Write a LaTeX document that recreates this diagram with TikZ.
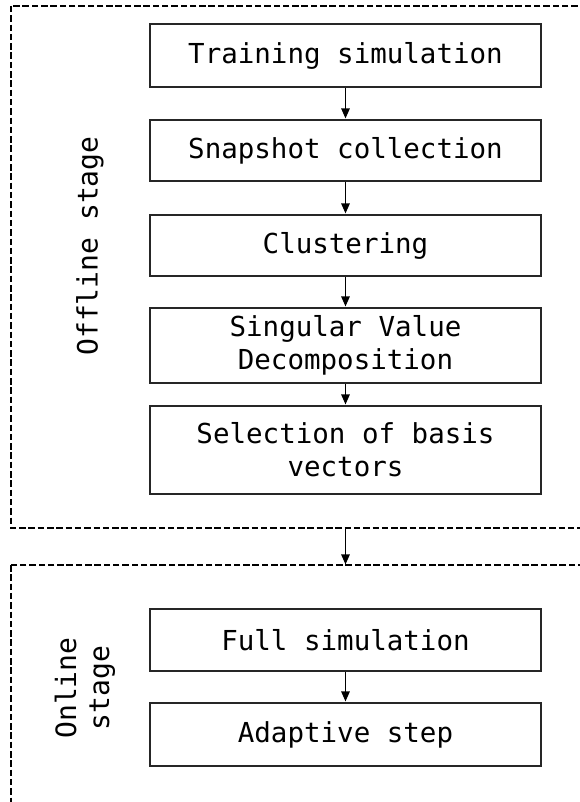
\documentclass[tikz,border=0pt]{standalone}
\usepackage{fontspec}
\setmonofont{DejaVu Sans Mono}
\usetikzlibrary{arrows.meta}
\tikzset{
  stagebox/.style={draw=black, line width=1.7pt, dash pattern=on 6.5pt off 2.8pt},
  stepbox/.style={draw=black!85, line width=2pt, minimum width=391pt, align=center,
    inner sep=0pt, font=\ttfamily\fontsize{27.5}{33}\selectfont},
  stagelabel/.style={rotate=90, align=center, inner sep=0pt,
    font=\ttfamily\fontsize{28}{33}\selectfont},
  flow/.style={draw=black, line width=1.4pt, -{Triangle[length=10pt,width=8.5pt]}, shorten >=0.6pt}
}
\begin{document}
\begin{tikzpicture}[x=1pt, y=-1pt]
  \useasboundingbox (0,0) rectangle (580,802);
  \clip (0,0) rectangle (580,802);
  \fill[white] (0,0) rectangle (580,802);

  % stage frames (open to the right and bottom)
  \draw[stagebox] (11,6) rectangle (600,528);
  \draw[stagebox] (11,565) rectangle (600,830);

  % stage labels
  \node[stagelabel] (offlbl) at (90,246) {Offline stage};
  \node[stagelabel] (onlbl) at (85,688) {Online\\stage};

  % offline steps
  \node[stepbox, minimum height=63pt] (train) at (345.5,55.5) {Training simulation};
  \node[stepbox, minimum height=61pt] (snap)  at (345.5,150.5) {Snapshot collection};
  \node[stepbox, minimum height=61pt] (clust) at (345.5,245.5) {Clustering};
  \node[stepbox, minimum height=75pt] (svd)   at (345.5,345.5) {Singular Value\\Decomposition};
  \node[stepbox, minimum height=88pt] (sel)   at (345.5,450) {Selection of basis\\vectors};

  % online steps
  \node[stepbox, minimum height=62pt] (full)  at (345.5,640) {Full simulation};
  \node[stepbox, minimum height=63pt] (adapt) at (345.5,734.5) {Adaptive step};

  % hand-over between the stages
  \coordinate (offend) at (345.5,528);
  \coordinate (onstart) at (345.5,565);

  \draw[flow] (train) -- (snap);
  \draw[flow] (snap) -- (clust);
  \draw[flow] (clust) -- (svd);
  \draw[flow] (svd) -- (sel);
  \draw[flow] (offend) -- (onstart);
  \draw[flow] (full) -- (adapt);
\end{tikzpicture}
\end{document}
